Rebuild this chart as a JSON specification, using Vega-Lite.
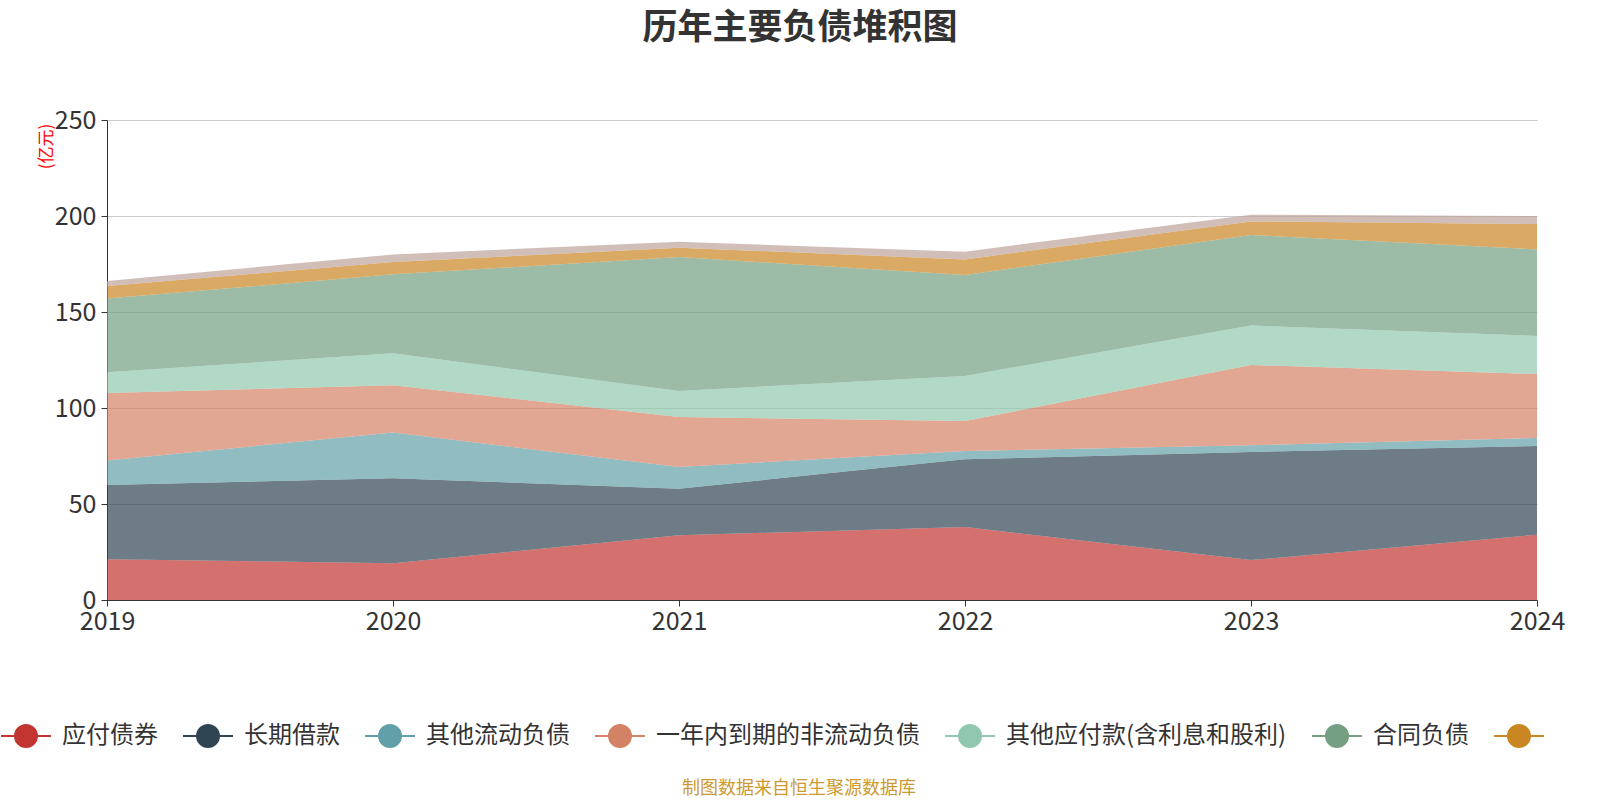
{
  "$schema": "https://vega.github.io/schema/vega-lite/v6.json",
  "autosize": "none",
  "width": 1430,
  "height": 480,
  "padding": {"left": 107, "top": 120, "right": 63, "bottom": 200},
  "background": "white",
  "config": {
    "font": "Noto Sans CJK SC",
    "view": {"stroke": null}
  },
  "title": {
    "text": "历年主要负债堆积图",
    "fontSize": 35,
    "fontWeight": "bold",
    "color": "#333333",
    "anchor": "middle",
    "dx": -22,
    "offset": 62
  },
  "data": {
    "values": [
      {"year": 2019, "item": "应付债券", "value": 21.2},
      {"year": 2019, "item": "长期借款", "value": 38.7},
      {"year": 2019, "item": "其他流动负债", "value": 12.8},
      {"year": 2019, "item": "一年内到期的非流动负债", "value": 35.1},
      {"year": 2019, "item": "其他应付款(含利息和股利)", "value": 10.8},
      {"year": 2019, "item": "合同负债", "value": 38.4},
      {"year": 2019, "item": "应付账款", "value": 6.5},
      {"year": 2019, "item": "应交税费", "value": 2.6},
      {"year": 2020, "item": "应付债券", "value": 19.2},
      {"year": 2020, "item": "长期借款", "value": 44.2},
      {"year": 2020, "item": "其他流动负债", "value": 23.8},
      {"year": 2020, "item": "一年内到期的非流动负债", "value": 24.6},
      {"year": 2020, "item": "其他应付款(含利息和股利)", "value": 16.7},
      {"year": 2020, "item": "合同负债", "value": 41.1},
      {"year": 2020, "item": "应付账款", "value": 6.4},
      {"year": 2020, "item": "应交税费", "value": 4.0},
      {"year": 2021, "item": "应付债券", "value": 33.7},
      {"year": 2021, "item": "长期借款", "value": 24.3},
      {"year": 2021, "item": "其他流动负债", "value": 11.3},
      {"year": 2021, "item": "一年内到期的非流动负债", "value": 26.0},
      {"year": 2021, "item": "其他应付款(含利息和股利)", "value": 13.6},
      {"year": 2021, "item": "合同负债", "value": 69.7},
      {"year": 2021, "item": "应付账款", "value": 4.9},
      {"year": 2021, "item": "应交税费", "value": 3.1},
      {"year": 2022, "item": "应付债券", "value": 38.0},
      {"year": 2022, "item": "长期借款", "value": 35.3},
      {"year": 2022, "item": "其他流动负债", "value": 4.3},
      {"year": 2022, "item": "一年内到期的非流动负债", "value": 15.6},
      {"year": 2022, "item": "其他应付款(含利息和股利)", "value": 23.5},
      {"year": 2022, "item": "合同负债", "value": 52.6},
      {"year": 2022, "item": "应付账款", "value": 8.1},
      {"year": 2022, "item": "应交税费", "value": 4.0},
      {"year": 2023, "item": "应付债券", "value": 20.8},
      {"year": 2023, "item": "长期借款", "value": 56.3},
      {"year": 2023, "item": "其他流动负债", "value": 3.5},
      {"year": 2023, "item": "一年内到期的非流动负债", "value": 41.8},
      {"year": 2023, "item": "其他应付款(含利息和股利)", "value": 20.6},
      {"year": 2023, "item": "合同负债", "value": 47.1},
      {"year": 2023, "item": "应付账款", "value": 7.1},
      {"year": 2023, "item": "应交税费", "value": 3.5},
      {"year": 2024, "item": "应付债券", "value": 34.0},
      {"year": 2024, "item": "长期借款", "value": 46.2},
      {"year": 2024, "item": "其他流动负债", "value": 4.2},
      {"year": 2024, "item": "一年内到期的非流动负债", "value": 33.3},
      {"year": 2024, "item": "其他应付款(含利息和股利)", "value": 19.8},
      {"year": 2024, "item": "合同负债", "value": 45.1},
      {"year": 2024, "item": "应付账款", "value": 13.2},
      {"year": 2024, "item": "应交税费", "value": 4.2}
    ]
  },
  "transform": [
    {"calculate": "indexof(['应付债券', '长期借款', '其他流动负债', '一年内到期的非流动负债', '其他应付款(含利息和股利)', '合同负债', '应付账款', '应交税费'], datum.item)", "as": "ord"}
  ],
  "mark": {"type": "area", "opacity": 0.7, "interpolate": "linear"},
  "encoding": {
    "x": {
      "field": "year",
      "type": "quantitative",
      "scale": {"domain": [2019, 2024], "nice": false, "zero": false},
      "axis": {
        "title": null,
        "values": [2019, 2020, 2021, 2022, 2023, 2024],
        "format": "d",
        "grid": false,
        "labelFlush": false,
        "labelFontSize": 25,
        "labelColor": "#333333",
        "labelPadding": 3,
        "domainColor": "#333333",
        "tickColor": "#333333",
        "tickSize": 6
      }
    },
    "y": {
      "field": "value",
      "type": "quantitative",
      "stack": "zero",
      "scale": {"domain": [0, 250], "nice": false},
      "axis": {
        "title": "(亿元)",
        "titleColor": "red",
        "titleFontSize": 17,
        "titleFontWeight": "normal",
        "titleAlign": "center",
        "titleBaseline": "middle",
        "titleX": -61,
        "titleY": 26,
        "values": [0, 50, 100, 150, 200, 250],
        "labelFontSize": 25,
        "labelColor": "#333333",
        "labelPadding": 5,
        "gridColor": "#cccccc",
        "domainColor": "#333333",
        "tickColor": "#333333",
        "tickSize": 6
      }
    },
    "order": {"field": "ord", "type": "quantitative", "sort": "ascending"},
    "color": {
      "field": "item",
      "type": "nominal",
      "sort": ["应付债券", "长期借款", "其他流动负债", "一年内到期的非流动负债", "其他应付款(含利息和股利)", "合同负债", "应付账款", "应交税费"],
      "scale": {
        "domain": ["应付债券", "长期借款", "其他流动负债", "一年内到期的非流动负债", "其他应付款(含利息和股利)", "合同负债", "应付账款", "应交税费"],
        "range": ["#c23531", "#2f4554", "#61a0a8", "#d48265", "#91c7ae", "#749f83", "#ca8622", "#bda29a"]
      },
      "legend": {
        "orient": "none",
        "direction": "horizontal",
        "legendX": -107,
        "legendY": 590,
        "values": ["应付债券", "长期借款", "其他流动负债", "一年内到期的非流动负债", "其他应付款(含利息和股利)", "合同负债", "应付账款"],
        "labelExpr": "datum.value == '应付账款' ? '' : datum.label",
        "title": "制图数据来自恒生聚源数据库",
        "titleOrient": "bottom",
        "titleAnchor": "middle",
        "titleColor": "#cc9a2f",
        "titleFontSize": 18,
        "titleFontWeight": "normal",
        "titleLimit": 1000,
        "titlePadding": 29,
        "symbolType": "M-1,0L1,0M-0.44,0A0.44,0.44,0,1,0,0.44,0A0.44,0.44,0,1,0,-0.44,0Z",
        "symbolSize": 2500,
        "symbolOpacity": 1,
        "symbolStrokeWidth": 2,
        "labelFontSize": 24,
        "labelColor": "#333333",
        "labelOffset": 10,
        "labelLimit": 0,
        "columnPadding": 21,
        "encode": {
          "title": {
            "update": {
              "dx": {"value": 21}
            }
          },
          "symbols": {
            "update": {
              "stroke": {"scale": "color", "field": "value"},
              "strokeWidth": {"value": 2}
            }
          }
        }
      }
    }
  }
}
